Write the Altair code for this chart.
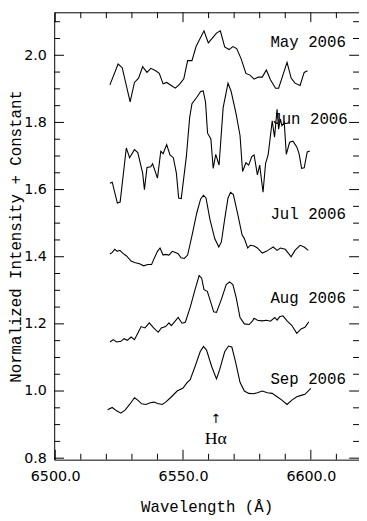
import altair as alt
import pandas as pd

# ---- spectra (wavelength in Å, normalized intensity + constant) ----
may_wl = [6521.4, 6524.6, 6526.2, 6529.3, 6531.0, 6532.6, 6534.2, 6535.9, 6537.4, 6539.3,
          6540.7, 6542.2, 6543.6, 6545.4, 6547.0, 6548.7, 6550.3, 6551.8, 6553.5, 6555.1,
          6558.2, 6559.9, 6563.1, 6564.6, 6566.3, 6568.0, 6569.5, 6571.0, 6572.7, 6574.6,
          6576.2, 6577.8, 6579.5, 6581.0, 6582.6, 6584.2, 6586.2, 6587.4, 6590.7, 6592.3,
          6593.8, 6595.8, 6597.4, 6598.7]
may_fl = [1.912, 1.974, 1.963, 1.861, 1.919, 1.932, 1.966, 1.949, 1.961, 1.954,
          1.946, 1.915, 1.919, 1.910, 1.902, 1.914, 1.930, 1.984, 1.984, 2.026,
          2.073, 2.037, 2.066, 2.073, 2.025, 2.017, 2.026, 2.020, 1.990, 1.946,
          1.941, 1.929, 1.935, 1.935, 1.956, 1.927, 1.902, 1.902, 1.979, 1.932,
          1.917, 1.910, 1.949, 1.954]

jun_wl = [6521.4, 6522.3, 6524.3, 6525.4, 6527.8, 6529.1, 6531.0, 6532.3, 6534.2, 6534.9,
          6535.9, 6537.4, 6538.1, 6540.0, 6541.3, 6542.2, 6543.6, 6544.9, 6546.2, 6547.4,
          6548.3, 6549.3, 6551.3, 6552.6, 6553.5, 6555.4, 6556.9, 6557.9, 6558.8, 6559.6,
          6560.9, 6561.8, 6562.8, 6564.1, 6565.7, 6567.6, 6568.8, 6570.8, 6572.3, 6573.3,
          6574.6, 6575.7, 6576.9, 6577.8, 6579.1, 6580.0, 6581.3, 6582.3, 6583.3, 6584.9,
          6585.8, 6586.8, 6587.4, 6588.1, 6588.7, 6589.6, 6590.4, 6591.7, 6593.0, 6594.5,
          6595.4, 6596.4, 6597.4, 6598.6, 6599.6]
jun_fl = [1.619, 1.622, 1.560, 1.563, 1.724, 1.695, 1.719, 1.710, 1.649, 1.600,
          1.666, 1.668, 1.677, 1.634, 1.714, 1.707, 1.734, 1.703, 1.695, 1.649,
          1.575, 1.573, 1.698, 1.815, 1.856, 1.875, 1.892, 1.894, 1.861, 1.768,
          1.751, 1.663, 1.705, 1.673, 1.844, 1.917, 1.893, 1.824, 1.761, 1.654,
          1.680, 1.673, 1.698, 1.703, 1.644, 1.673, 1.592, 1.678, 1.703, 1.805,
          1.756, 1.839, 1.780, 1.810, 1.790, 1.800, 1.705, 1.741, 1.744, 1.727,
          1.707, 1.663, 1.665, 1.712, 1.715]

jul_wl = [6521.4, 6522.3, 6523.3, 6524.3, 6525.3, 6526.5, 6527.8, 6529.7, 6531.0, 6533.0,
          6534.6, 6536.2, 6537.7, 6538.7, 6540.0, 6541.0, 6542.2, 6543.2, 6544.5, 6545.8,
          6546.8, 6548.1, 6549.2, 6550.5, 6551.8, 6553.5, 6555.4, 6556.9, 6558.0, 6559.0,
          6560.5, 6562.4, 6564.0, 6565.0, 6566.3, 6567.6, 6568.6, 6569.7, 6571.4, 6573.1,
          6574.0, 6575.3, 6576.3, 6577.8, 6579.1, 6581.0, 6582.6, 6583.8, 6585.3, 6586.8,
          6588.1, 6590.0, 6592.3, 6593.8, 6595.8, 6597.4, 6599.0]
jul_fl = [1.408, 1.413, 1.422, 1.416, 1.419, 1.410, 1.403, 1.387, 1.383, 1.379,
          1.373, 1.377, 1.377, 1.395, 1.416, 1.426, 1.405, 1.407, 1.405, 1.416,
          1.413, 1.409, 1.397, 1.395, 1.405, 1.463, 1.531, 1.572, 1.583, 1.575,
          1.512, 1.454, 1.429, 1.444, 1.512, 1.575, 1.592, 1.585, 1.527, 1.465,
          1.454, 1.426, 1.434, 1.432, 1.426, 1.411, 1.416, 1.422, 1.429, 1.419,
          1.426, 1.422, 1.400, 1.419, 1.434, 1.429, 1.419]

aug_wl = [6521.4, 6522.7, 6524.0, 6525.7, 6526.9, 6528.2, 6529.7, 6531.0, 6532.3, 6533.6,
          6535.1, 6536.8, 6538.5, 6540.3, 6541.5, 6543.2, 6544.5, 6545.4, 6547.0, 6548.1,
          6549.6, 6550.9, 6552.8, 6554.7, 6556.3, 6557.3, 6558.2, 6559.5, 6560.5, 6562.0,
          6563.1, 6565.0, 6566.9, 6568.2, 6569.5, 6570.8, 6572.3, 6574.0, 6575.9, 6577.2,
          6577.8, 6579.1, 6581.0, 6582.7, 6584.2, 6585.9, 6586.8, 6587.8, 6589.1, 6590.7,
          6592.6, 6594.5, 6596.2, 6597.7, 6599.2]
aug_fl = [1.146, 1.153, 1.146, 1.148, 1.156, 1.151, 1.161, 1.153, 1.172, 1.192,
          1.188, 1.203, 1.188, 1.175, 1.188, 1.192, 1.203, 1.195, 1.209, 1.219,
          1.202, 1.205, 1.249, 1.302, 1.344, 1.336, 1.302, 1.297, 1.273, 1.236,
          1.234, 1.273, 1.317, 1.325, 1.317, 1.278, 1.219, 1.200, 1.198, 1.209,
          1.217, 1.211, 1.209, 1.211, 1.208, 1.219, 1.211, 1.221, 1.224, 1.209,
          1.195, 1.172, 1.185, 1.190, 1.206]

sep_wl = [6520.5, 6522.3, 6524.0, 6525.7, 6527.4, 6529.1, 6531.0, 6532.3, 6533.8, 6535.5,
          6537.2, 6538.7, 6540.0, 6541.9, 6543.2, 6545.1, 6547.7, 6550.0, 6551.5, 6552.8,
          6554.7, 6556.7, 6558.0, 6559.2, 6561.2, 6563.1, 6564.3, 6566.3, 6567.8, 6569.1,
          6570.5, 6572.3, 6574.0, 6575.7, 6577.6, 6579.1, 6581.0, 6583.0, 6584.9, 6586.8,
          6588.7, 6590.7, 6592.6, 6594.5, 6596.2, 6597.7, 6600.0]
sep_fl = [0.944, 0.951, 0.941, 0.934, 0.944, 0.960, 0.980, 0.973, 0.962, 0.960,
          0.965, 0.967, 0.963, 0.960, 0.967, 0.980, 1.000, 1.009, 1.024, 1.034,
          1.073, 1.117, 1.133, 1.122, 1.073, 1.036, 1.063, 1.117, 1.134, 1.131,
          1.088, 1.026, 1.000, 0.993, 0.992, 0.995, 1.000, 0.995, 0.993, 0.983,
          0.973, 0.960, 0.973, 0.983, 0.987, 0.990, 1.008]

# ---- labels ----
month_names = ["May 2006", "Jun 2006", "Jul 2006", "Aug 2006", "Sep 2006"]
month_label_wl = [6584.2, 6584.9, 6584.2, 6584.2, 6584.2]
month_label_fl = [2.025, 1.795, 1.512, 1.261, 1.021]

x_major = [6500, 6550, 6600]
x_minor = [6510, 6520, 6530, 6540, 6560, 6570, 6580, 6590, 6610]
y_major = [0.8, 1.0, 1.2, 1.4, 1.6, 1.8, 2.0]
y_minor = [0.85, 0.9, 0.95, 1.05, 1.1, 1.15, 1.25, 1.3, 1.35, 1.45, 1.5, 1.55,
           1.65, 1.7, 1.75, 1.85, 1.9, 1.95, 2.05, 2.1]

series = [("May 2006", may_wl, may_fl), ("Jun 2006", jun_wl, jun_fl),
          ("Jul 2006", jul_wl, jul_fl), ("Aug 2006", aug_wl, aug_fl),
          ("Sep 2006", sep_wl, sep_fl)]
rows = []
for name, wl, fl in series:
    assert len(wl) == len(fl), name
    for a, b in zip(wl, fl):
        rows.append({"series": name, "wl": a, "flux": b})
df = pd.DataFrame(rows)

W, H = 310, 455
xs = alt.Scale(domain=[6499.6, 6618.85], nice=False, zero=False)
ys = alt.Scale(domain=[0.7956, 2.128], nice=False, zero=False)

MONO = "Liberation Mono"

x_axis = alt.Axis(
    values=x_major, format=".1f", ticks=False, tickSize=0, domain=False, grid=False,
    labelFont="DejaVu Sans", labelFontSize=14.5, labelColor="black", labelPadding=10,
    title="Wavelength (Å)", titleFont=MONO, titleFontSize=16, titleFontWeight="normal",
    titleColor="black", titlePadding=16)
y_axis = alt.Axis(
    values=y_major, format=".1f", ticks=False, tickSize=0, domain=False, grid=False,
    labelFont="DejaVu Sans", labelFontSize=14.5, labelColor="black", labelPadding=8,
    title="Normalized Intensity + Constant", titleFont=MONO, titleFontSize=16,
    titleFontWeight="normal", titleColor="black", titlePadding=0)

def X(field):
    return alt.X(field, scale=xs, axis=x_axis)

def Y(field):
    return alt.Y(field, scale=ys, axis=y_axis)

lines = alt.Chart(df).mark_line(color="black", strokeWidth=1.1).encode(
    x=X("wl:Q"), y=Y("flux:Q"), detail="series:N")

def xticks(vals, length):
    d = pd.DataFrame({"v": vals})
    bottom = alt.Chart(d).mark_rule(color="black", strokeWidth=1).encode(
        x=X("v:Q"), y=alt.value(H), y2=alt.value(H - length))
    top = alt.Chart(d).mark_rule(color="black", strokeWidth=1).encode(
        x=X("v:Q"), y=alt.value(0), y2=alt.value(length))
    return [bottom, top]

def yticks(vals, length):
    d = pd.DataFrame({"v": vals})
    left = alt.Chart(d).mark_rule(color="black", strokeWidth=1).encode(
        y=Y("v:Q"), x=alt.value(0), x2=alt.value(length))
    right = alt.Chart(d).mark_rule(color="black", strokeWidth=1).encode(
        y=Y("v:Q"), x=alt.value(W), x2=alt.value(W - length))
    return [left, right]

labels_df = pd.DataFrame({"name": month_names, "wl": month_label_wl, "fl": month_label_fl})
labels = alt.Chart(labels_df).mark_text(
    align="left", baseline="alphabetic", font=MONO, fontSize=16, color="black"
).encode(x=X("wl:Q"), y=Y("fl:Q"), text="name:N")

ha_df = pd.DataFrame({"t": ["Hα"], "wl": [6562.8], "fl": [0.8425]})
ha = alt.Chart(ha_df).mark_text(
    align="center", baseline="alphabetic", font="Liberation Serif", fontSize=18, color="black"
).encode(x=X("wl:Q"), y=Y("fl:Q"), text="t:N")

arrow_df = pd.DataFrame({"t": ["↑"], "wl": [6562.8], "fl": [0.904]})
arrow = alt.Chart(arrow_df).mark_text(
    align="center", baseline="alphabetic", font="DejaVu Sans", fontSize=13, color="black"
).encode(x=X("wl:Q"), y=Y("fl:Q"), text="t:N")

layers = [lines] + xticks(x_major, 10) + xticks(x_minor, 6) + yticks(y_major, 10) + \
    yticks(y_minor, 6) + [labels, ha, arrow]

chart = alt.layer(*layers).properties(
    width=W, height=H,
    autosize=alt.AutoSizeParams(type="none"),
    padding={"left": 47, "top": 0, "right": 0, "bottom": 57},
    background="white",
).configure_view(stroke="black", strokeWidth=1)

chart.save("out.html", embed_options={"renderer": "svg", "actions": False})
